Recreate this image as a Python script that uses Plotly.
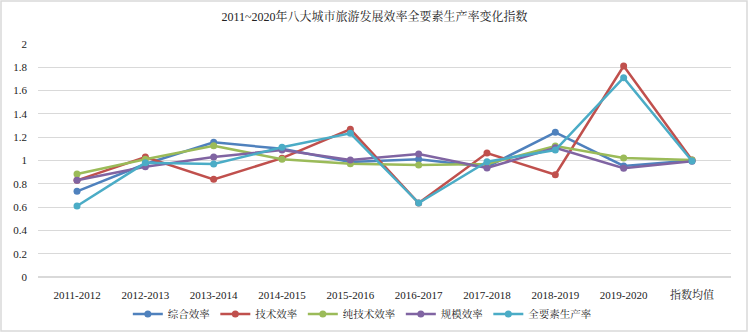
import plotly.graph_objects as go

categories = ["2011-2012", "2012-2013", "2013-2014", "2014-2015", "2015-2016",
              "2016-2017", "2017-2018", "2018-2019", "2019-2020", "指数均值"]
zonghe = [0.735, 0.97, 1.156, 1.10, 0.987, 1.01, 0.945, 1.242, 0.953, 1.0]
jishu = [0.83, 1.03, 0.838, 1.02, 1.268, 0.635, 1.064, 0.878, 1.811, 1.004]
chunjishu = [0.884, 1.01, 1.127, 1.01, 0.973, 0.961, 0.97, 1.124, 1.021, 1.005]
guimo = [0.83, 0.947, 1.03, 1.09, 1.004, 1.056, 0.936, 1.11, 0.933, 0.993]
quanyaosu = [0.61, 0.98, 0.97, 1.113, 1.233, 0.635, 0.99, 1.09, 1.711, 0.995]

series = [
    ("综合效率", zonghe, "#4F81BD"),
    ("技术效率", jishu, "#C0504D"),
    ("纯技术效率", chunjishu, "#9BBB59"),
    ("规模效率", guimo, "#8064A2"),
    ("全要素生产率", quanyaosu, "#4BACC6"),
]

FONT = "Liberation Serif, Noto Serif CJK SC, Noto Sans CJK SC, serif"

fig = go.Figure()
for name, vals, color in series:
    fig.add_trace(go.Scatter(
        x=categories, y=vals, name=name, mode="lines+markers",
        line=dict(color=color, width=2.5),
        marker=dict(color=color, size=7),
    ))

fig.update_layout(
    width=749, height=335,
    margin=dict(l=38, r=18, t=44, b=58, autoexpand=False),
    paper_bgcolor="white", plot_bgcolor="white",
    title=dict(text="2011~2020年八大城市旅游发展效率全要素生产率变化指数",
               x=0.5, xanchor="center", y=0.95, yanchor="middle",
               font=dict(family=FONT, size=12, color="#222")),
    font=dict(family=FONT, size=11, color="#222"),
    xaxis=dict(showgrid=False, showline=False, ticks="", tickfont=dict(size=11),
               automargin=False, ticklabelstandoff=10),
    yaxis=dict(range=[0, 2.0], dtick=0.2, showgrid=True, gridcolor="#d9d9d9",
               gridwidth=1, zeroline=True, zerolinecolor="#d9d9d9",
               showline=False, ticks="", tickformat="~g", tickfont=dict(size=11),
               automargin=False, ticklabelstandoff=10),
    legend=dict(orientation="h", x=0.468, xanchor="center", y=-0.159,
                yanchor="middle", font=dict(size=10.5), itemwidth=30,
                tracegroupgap=0),
    showlegend=True,
    shapes=[dict(type="rect", xref="paper", yref="paper",
                 x0=-0.0534, x1=1.0231, y0=-0.2318, y1=1.1845,
                 line=dict(color="#d9d9d9", width=1.5), fillcolor="rgba(0,0,0,0)")],
)

fig.write_html("out.html", config={"displayModeBar": False},
               post_script="document.body.style.margin='0';document.body.style.overflow='hidden';")
